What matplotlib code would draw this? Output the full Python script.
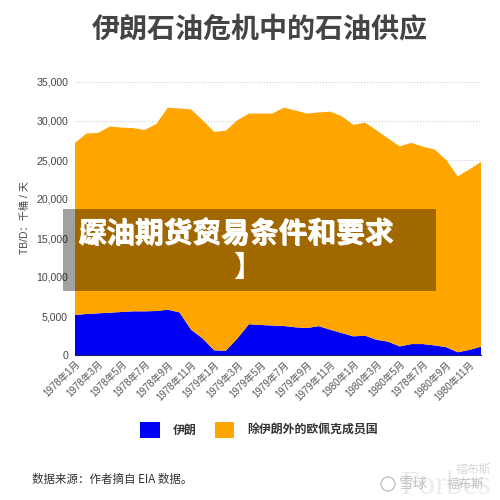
import matplotlib
matplotlib.use("Agg")
import matplotlib.pyplot as plt
from matplotlib.patches import Rectangle, Patch, Circle

CJK = ['Noto Sans CJK SC', 'DejaVu Sans']
LATIN_CJK = ['Liberation Sans', 'Noto Sans CJK SC', 'DejaVu Sans']
plt.rcParams['font.family'] = LATIN_CJK

title = "伊朗石油危机中的石油供应"
ylabel = "TB/D：千桶 / 天"
source = "数据来源：作者摘自 EIA 数据。"
series_names = ["伊朗", "除伊朗外的欧佩克成员国"]
overlay_a = "原油期货交易条件和要求"
overlay_b = "深油期货贸易条件和要求"
overlay_line2 = "】"

tick_labels = ["1978年1月", "1978年3月", "1978年5月", "1978年7月", "1978年9月", "1978年11月",
               "1979年1月", "1979年3月", "1979年5月", "1979年7月", "1979年9月", "1979年11月",
               "1980年1月", "1980年3月", "1980年5月", "1978年7月", "1980年9月", "1980年11月"]
months = list(range(36))
iran = [5130, 5260, 5340, 5430, 5510, 5600, 5600, 5640, 5810, 5470, 3250, 2130,
        600, 550, 2130, 3950, 3850, 3780, 3720, 3550, 3450, 3700, 3250, 2820,
        2390, 2480, 1950, 1710, 1100, 1400, 1400, 1230, 1000, 350, 650, 1070]
total = [27200, 28400, 28470, 29300, 29150, 29100, 28850, 29600, 31700, 31600, 31500, 30100,
         28600, 28750, 30100, 30950, 30950, 30950, 31700, 31350, 30950, 31100, 31200, 30600,
         29500, 29800, 28800, 27750, 26750, 27200, 26700, 26350, 25000, 22900, 23800, 24750]
others = [t - i for t, i in zip(total, iran)]
yticks = [0, 5000, 10000, 15000, 20000, 25000, 30000, 35000]
BLUE, ORANGE = "#0000f5", "#ffa500"

fig = plt.figure(figsize=(5, 5), dpi=100, facecolor="white")
ax = fig.add_axes([75/500, 145/500, 406/500, 273/500])
ax.stackplot(months, iran, others, colors=[BLUE, ORANGE], linewidth=0, zorder=2)
ax.set_xlim(0, 35)
ax.set_ylim(0, 35000)
ax.set_yticks(yticks)
ax.set_yticklabels([f"{v:,}" for v in yticks], fontsize=7.6, color="#444444")
ax.set_xticks(months[::2])
ax.set_xticklabels(tick_labels, rotation=45, ha="right", rotation_mode="anchor",
                   fontsize=7.0, color="#555555")
ax.tick_params(length=0, pad=5)
ax.tick_params(axis="x", pad=3)
ax.grid(axis="y", color="#cccccc", linestyle=":", linewidth=0.8, zorder=0)
ax.set_axisbelow(True)
for name in ("top", "left", "right"):
    ax.spines[name].set_visible(False)
ax.spines["bottom"].set_color("#222266")
ax.spines["bottom"].set_linewidth(0.8)

fig.text(260/500, 1-29/500, title, fontsize=20.2, fontweight="bold", color="#444444",
         ha="center", va="center", family=CJK)
fig.text(25/500, 1-218/500, ylabel, fontsize=7.4, color="#444444", rotation=90,
         ha="center", va="center", family=LATIN_CJK)

fig.legend(handles=[Patch(facecolor=BLUE, label=series_names[0]),
                    Patch(facecolor=ORANGE, label=series_names[1])],
           loc="center", bbox_to_anchor=(259/500, 1-430/500), ncol=2, frameon=False,
           handlelength=1.67, handleheight=1.67, handletextpad=1.1,
           columnspacing=1.5, labelcolor="#333333",
           prop={'family': CJK, 'size': 8.6, 'weight': 'bold'})

fig.text(32/500, 1-479/500, source, fontsize=8.3, color="#333333", ha="left", va="center", family=CJK)

# translucent banner on top of the chart
fig.add_artist(Rectangle((63/500, 1-291/500), 373/500, 82/500, transform=fig.transFigure,
                         facecolor="black", alpha=0.37, edgecolor="none", zorder=5))
for s, dx in ((overlay_a, 0), (overlay_b, 1.5)):
    fig.text((77+dx)/500, 1-234/500, s, fontsize=20.7, fontweight="bold", color="white",
             ha="left", va="center", family=CJK, zorder=6)
fig.text(248/500, 1-267/500, overlay_line2, fontsize=20.7, fontweight="bold", color="white",
         ha="center", va="center", family=CJK, zorder=6)

# faint watermarks, bottom right
fig.text(445/500, 1-486/500, "Forbes", fontsize=24, color="#ececec", ha="center", va="center",
         family=['Liberation Serif'])
fig.text(473/500, 1-469/500, "福布斯", fontsize=8.5, color="#d8d8d8", ha="center", va="center", family=CJK)
fig.add_artist(Circle((388/500, 1-484/500), 7/500, transform=fig.transFigure,
                      facecolor="none", edgecolor="#cccccc", linewidth=1.2))
fig.text(414/500, 1-484/500, "雪球", fontsize=10.5, color="#c4c4c4", ha="center", va="center", family=CJK)
fig.text(466/500, 1-484/500, "福布斯", fontsize=9, color="#c4c4c4", ha="center", va="center", family=CJK)

fig.savefig("out.png", dpi=100)
